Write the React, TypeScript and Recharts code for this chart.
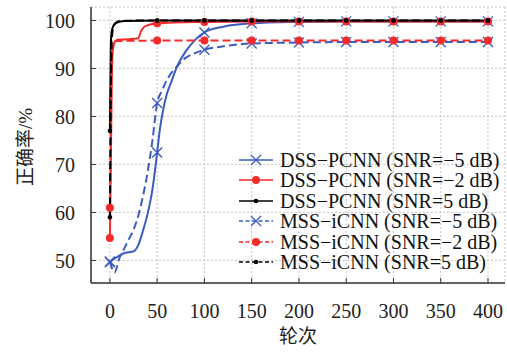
import React from "react";
import {
  LineChart,
  Line,
  XAxis,
  YAxis,
  CartesianGrid,
  Legend,
} from "recharts";

// epochs + accuracy (%) per curve
const dssM5Epochs = [0, 5, 10, 15, 20, 25, 30, 35, 40, 45, 50, 53, 56, 60, 65, 70, 80, 90, 100, 120, 150, 200, 250, 300, 350, 400];
const dssM5Acc = [49.6, 50.4, 51.0, 51.5, 51.7, 51.9, 53.2, 56.2, 59.8, 64.8, 72.5, 77.5, 81.0, 84.5, 87.2, 89.9, 93.5, 95.9, 97.5, 98.7, 99.4, 99.7, 99.8, 99.8, 99.8, 99.8];

const dssM2Epochs = [0, 1, 2, 3, 5, 8, 20, 30, 33, 36, 40, 46, 50, 100, 150, 200, 250, 300, 350, 400];
const dssM2Acc = [54.7, 70, 88, 93.5, 95.4, 96.0, 96.1, 96.3, 97.8, 98.6, 99.0, 99.3, 99.4, 99.7, 99.8, 99.8, 99.8, 99.8, 99.8, 99.8];

const dssP5Epochs = [0, 1, 2, 4, 8, 15, 50, 100, 150, 200, 250, 300, 350, 400];
const dssP5Acc = [77, 95, 97.8, 99.0, 99.6, 99.9, 100, 100, 100, 100, 100, 100, 100, 100];

const mssM5Epochs = [0, 2, 5, 10, 15, 20, 25, 30, 35, 40, 45, 50, 55, 60, 70, 80, 90, 100, 120, 150, 200, 250, 300, 350, 400];
const mssM5Acc = [49.8, 48.5, 47.5, 50.5, 52.4, 54.4, 56.4, 59.3, 63.4, 68.5, 75.0, 82.8, 85.3, 87.5, 90.2, 92.2, 93.2, 93.9, 94.6, 95.2, 95.4, 95.5, 95.5, 95.5, 95.5];

const mssM2Epochs = [0, 1, 2, 3, 5, 50, 100, 150, 200, 250, 300, 350, 400];
const mssM2Acc = [61, 80, 93, 95.6, 95.7, 95.8, 95.8, 95.8, 95.8, 95.8, 95.8, 95.8, 95.8];

const mssP5Epochs = [0, 1, 2, 4, 7, 10, 50, 100, 150, 200, 250, 300, 350, 400];
const mssP5Acc = [59, 85, 96, 99.0, 99.6, 99.9, 100, 100, 100, 100, 100, 100, 100, 100];

const xTicks = [0, 50, 100, 150, 200, 250, 300, 350, 400];
const yTicks = [50, 60, 70, 80, 90, 100];

const BLUE = "#3a5cc0";
const RED = "#f52a2a";
const BLACK = "#000000";
const FONT = '"Liberation Serif", Tinos, "Times New Roman", "DejaVu Serif", serif';
const CJK_FONT = '"Liberation Serif", "Noto Sans CJK SC", serif';

const toRows = (epochs: number[], acc: number[]) =>
  epochs.map((e, i) => ({ epoch: e, acc: acc[i] }));

type Marker = "cross" | "dot" | "small";

const series = [
  { name: "DSS\u2212PCNN (SNR=\u22125 dB)", data: toRows(dssM5Epochs, dssM5Acc), color: BLUE, dashed: false, marker: "cross" as Marker },
  { name: "DSS\u2212PCNN (SNR=\u22122 dB)", data: toRows(dssM2Epochs, dssM2Acc), color: RED, dashed: false, marker: "dot" as Marker },
  { name: "DSS\u2212PCNN (SNR=5 dB)", data: toRows(dssP5Epochs, dssP5Acc), color: BLACK, dashed: false, marker: "small" as Marker },
  { name: "MSS\u2212iCNN (SNR=\u22125 dB)", data: toRows(mssM5Epochs, mssM5Acc), color: BLUE, dashed: true, marker: "cross" as Marker },
  { name: "MSS\u2212iCNN (SNR=\u22122 dB)", data: toRows(mssM2Epochs, mssM2Acc), color: RED, dashed: true, marker: "dot" as Marker },
  { name: "MSS\u2212iCNN (SNR=5 dB)", data: toRows(mssP5Epochs, mssP5Acc), color: BLACK, dashed: true, marker: "small" as Marker },
];

const drawMarker = (kind: Marker, cx: number, cy: number, color: string, key?: string) => {
  if (kind === "cross") {
    const s = 5;
    return (
      <g key={key}>
        <line x1={cx - s} y1={cy - s} x2={cx + s} y2={cy + s} stroke={color} strokeWidth={1.3} />
        <line x1={cx - s} y1={cy + s} x2={cx + s} y2={cy - s} stroke={color} strokeWidth={1.3} />
      </g>
    );
  }
  if (kind === "dot") {
    return <circle key={key} cx={cx} cy={cy} r={4} fill={color} stroke="none" />;
  }
  return <circle key={key} cx={cx} cy={cy} r={2.3} fill={color} stroke="none" />;
};

const makeDot = (kind: Marker, color: string) => (p: any) => {
  const key = `${kind}-${color}-${p.index}`;
  if (p.payload == null || p.payload.epoch % 50 !== 0) return <g key={key} />;
  return drawMarker(kind, p.cx, p.cy, color, key);
};

const LegendBox = () => (
  <div style={{ fontFamily: FONT, fontSize: 20, color: "#111" }}>
    {series.map((s) => (
      <div key={s.name} style={{ display: "flex", alignItems: "center", height: 20.5, whiteSpace: "nowrap" }}>
        <svg width={36} height={20} style={{ marginRight: 6 }}>
          <line x1={1} y1={10} x2={35} y2={10} stroke={s.color} strokeWidth={1.6} strokeDasharray={s.dashed ? "4 2.5" : undefined} />
          {drawMarker(s.marker, 18, 10, s.color)}
        </svg>
        <span style={{ lineHeight: "20.5px" }}>{s.name}</span>
      </div>
    ))}
  </div>
);

const YLabel = (props: any) => {
  const vb = props.viewBox || { x: 0, y: 7, height: 276 };
  const cx = vb.x + 25;
  const cy = vb.y + vb.height / 2 + 2;
  return (
    <text
      transform={`translate(${cx},${cy}) rotate(-90)`}
      textAnchor="middle"
      dominantBaseline="central"
      style={{ fontFamily: CJK_FONT, fontSize: 19, fill: "#222" }}
    >
      正确率/%
    </text>
  );
};

export default function App() {
  const tickStyle = { fontSize: 20, fill: "#222", style: { fontFamily: FONT } };
  return (
    <div style={{ position: "absolute", left: 0, top: 0, width: 507, height: 352, background: "#fff", fontFamily: FONT }}>
      <LineChart width={507} height={352} margin={{ top: 7, right: 2, bottom: 0, left: 0 }} style={{ fontFamily: FONT }}>
        <CartesianGrid stroke="#b8b8b8" strokeDasharray="2 2" strokeWidth={0.8} />
        <XAxis
          dataKey="epoch"
          type="number"
          domain={[-20, 418]}
          ticks={xTicks}
          height={69}
          tick={tickStyle}
          tickSize={-5}
          tickMargin={26}
          axisLine={{ stroke: "#333", strokeWidth: 1.5 }}
          tickLine={{ stroke: "#333", strokeWidth: 1 }}
          allowDuplicatedCategory={false}
          label={{ value: "轮次", position: "insideBottom", offset: 9, style: { fontFamily: CJK_FONT, fontSize: 19, fill: "#222" } }}
        />
        <XAxis
          xAxisId="top"
          orientation="top"
          type="number"
          domain={[-20, 418]}
          height={0}
          tick={false}
          tickLine={false}
          axisLine={{ stroke: "#333", strokeWidth: 1.5 }}
        />
        <YAxis
          type="number"
          domain={[45.3, 102.8]}
          ticks={yTicks}
          width={91}
          tick={tickStyle}
          tickSize={-5}
          tickMargin={21}
          axisLine={{ stroke: "#333", strokeWidth: 1.5 }}
          tickLine={{ stroke: "#333", strokeWidth: 1 }}
          label={<YLabel />}
        />
        <YAxis
          yAxisId="right"
          orientation="right"
          type="number"
          domain={[45.3, 102.8]}
          width={0}
          tick={false}
          tickLine={false}
          axisLine={{ stroke: "#333", strokeWidth: 1.5 }}
        />
        <Legend
          layout="vertical"
          align="center"
          verticalAlign="middle"
          content={<LegendBox />}
          wrapperStyle={{ position: "absolute", left: 238, top: 149.5, width: 268, height: 124 }}
        />
        {series.map((s) => (
          <Line
            key={s.name}
            data={s.data}
            dataKey="acc"
            name={s.name}
            type="monotone"
            stroke={s.color}
            strokeWidth={2}
            strokeDasharray={s.dashed ? "8 4" : undefined}
            dot={makeDot(s.marker, s.color)}
            activeDot={false}
            isAnimationActive={false}
          />
        ))}
      </LineChart>
    </div>
  );
}
